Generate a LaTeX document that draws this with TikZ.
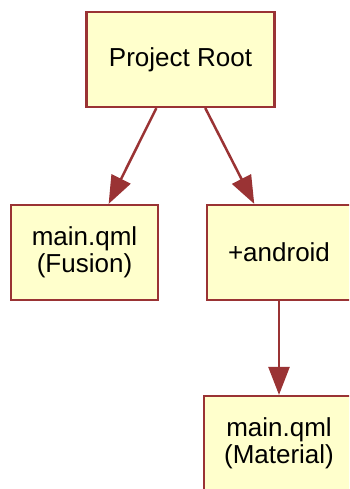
\documentclass[tikz,border=0pt]{standalone}
\usepackage{fontspec}
\setmainfont{Liberation Sans}
\usetikzlibrary{arrows.meta}

\definecolor{edgered}{HTML}{9A3334}
\definecolor{boxfill}{HTML}{FFFFCC}

\tikzset{
  filebox/.style={draw=edgered, fill=boxfill, line width=2.2pt, minimum height=95pt,
    align=center, inner sep=0pt, font=\fontsize{26}{27}\selectfont},
  link/.style={draw=edgered, line width=2.5pt, -{Triangle[length=28pt,width=21pt]}}
}

\begin{document}
\begin{tikzpicture}[x=1pt,y=-1pt]
\useasboundingbox (0,0) rectangle (349,489);
\clip (0,0) rectangle (349,489);

\node[filebox, minimum width=188pt] (root) at (180.5,59.5) {Project Root};
\node[filebox, minimum width=147pt] (fusion) at (84.5,252.5) {main.qml\\(Fusion)};
\node[filebox, minimum width=144pt] (android) at (279,252.5) {+android};
\node[filebox, minimum width=150pt] (material) at (279,443.5) {main.qml\\(Material)};

\draw[link] (root) -- (fusion);
\draw[link] (root) -- (android);
\draw[link] (android) -- (material);

\end{tikzpicture}
\end{document}
